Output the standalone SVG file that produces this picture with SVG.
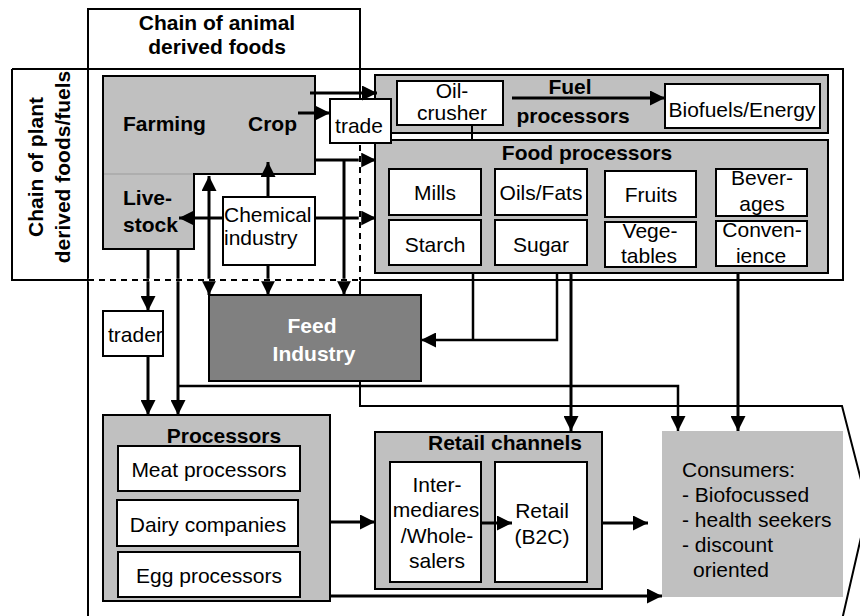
<svg xmlns="http://www.w3.org/2000/svg" width="860" height="616" viewBox="0 0 860 616">
<defs>
<marker id="ah" markerUnits="userSpaceOnUse" markerWidth="15" markerHeight="15" refX="15" refY="7.5" orient="auto-start-reverse" viewBox="0 0 15 15">
<path d="M0,0 L15,7.5 L0,15 z" fill="#000"/>
</marker>
<style>
text{font-family:"Liberation Sans",Arial,sans-serif;font-size:21px;fill:#000}
.b{font-weight:bold}
.m{text-anchor:middle}
.gray{fill:#c0c0c0;stroke:#000;stroke-width:2}
.wb{fill:#fff;stroke:#000;stroke-width:2}
.frame{fill:none;stroke:#000;stroke-width:2}
.c{fill:none;stroke:#000;stroke-width:2.5}
.ca{fill:none;stroke:#000;stroke-width:3;marker-end:url(#ah)}
.ct{fill:none;stroke:#000;stroke-width:2.5;marker-end:url(#ah)}
</style>
</defs>
<rect width="860" height="616" fill="#fff"/>

<g id="frames">
<path class="frame" d="M12,69 H843 V280 H360 M88,280 H12 V69"/>
<path class="frame" d="M88,616 V9 H360 V99"/>
<path class="frame" d="M360,280 V406 H842 L868,507 L842,620"/>
<text class="b m" x="217" y="30">Chain of animal</text>
<text class="b m" x="217" y="54">derived foods</text>
<text class="b m" transform="translate(43,167) rotate(-90)">Chain of plant</text>
<text class="b m" transform="translate(70,167) rotate(-90)">derived foods/fuels</text>
</g>

<g id="farming">
<polygon class="gray" points="103,76 315,76 315,174 194,174 194,249 103,249"/>
<line x1="104" y1="174" x2="193" y2="174" stroke="#a8a8a8" stroke-width="1.5"/>
<text class="b" x="123" y="131">Farming</text>
<text class="b" x="248" y="131">Crop</text>
<text class="b" x="123" y="205">Live-</text>
<text class="b" x="123" y="232">stock</text>
</g>

<g id="fuel-processors">
<rect class="gray" x="375" y="75" width="453" height="58"/>
<text class="b m" x="570" y="94">Fuel</text>
<text class="b m" x="573" y="123">processors</text>
</g>
<g id="oil-crusher">
<rect class="wb" x="397" y="81" width="106" height="44"/>
<text class="m" x="452" y="98">Oil-</text>
<text class="m" x="452" y="120">crusher</text>
</g>
<g id="biofuels">
<rect class="wb" x="665" y="84" width="155" height="44"/>
<text class="m" x="742" y="117">Biofuels/Energy</text>
</g>

<g id="food-processors">
<rect class="gray" x="375" y="140" width="453" height="133"/>
<text class="b m" x="587" y="160">Food processors</text>
</g>
<g id="mills"><rect class="wb" x="389" y="169" width="92" height="46"/><text class="m" x="435" y="200">Mills</text></g>
<g id="oils-fats"><rect class="wb" x="495" y="169" width="92" height="46"/><text class="m" x="541" y="200">Oils/Fats</text></g>
<g id="fruits"><rect class="wb" x="605" y="171" width="91" height="46"/><text class="m" x="651" y="202">Fruits</text></g>
<g id="beverages"><rect class="wb" x="716" y="169" width="91" height="47"/><text class="m" x="762" y="185">Bever-</text><text class="m" x="762" y="211">ages</text></g>
<g id="starch"><rect class="wb" x="389" y="220" width="92" height="45"/><text class="m" x="435" y="252">Starch</text></g>
<g id="sugar"><rect class="wb" x="495" y="220" width="92" height="45"/><text class="m" x="541" y="252">Sugar</text></g>
<g id="vegetables"><rect class="wb" x="605" y="222" width="91" height="45"/><text class="m" x="650" y="238">Vege-</text><text class="m" x="649" y="263">tables</text></g>
<g id="convenience"><rect class="wb" x="716" y="221" width="91" height="45"/><text class="m" x="762" y="237">Conven-</text><text class="m" x="761" y="263">ience</text></g>

<g id="trade">
<rect class="wb" x="330" y="99" width="61" height="44"/>
<text class="m" x="359" y="133">trade</text>
</g>

<g id="chemical-industry">
<rect class="wb" x="223" y="197" width="92" height="68"/>
<text x="224" y="222">Chemical</text>
<text x="224" y="245">industry</text>
</g>

<g id="trader">
<rect class="wb" x="103" y="311" width="60" height="45"/>
<text x="108" y="342">trader</text>
</g>

<g id="feed-industry">
<rect x="209" y="295" width="212" height="86" fill="#808080" stroke="#000" stroke-width="2"/>
<text class="b m" x="312" y="333" style="fill:#fff">Feed</text>
<text class="b m" x="314" y="361" style="fill:#fff">Industry</text>
</g>

<g id="processors">
<rect class="gray" x="103" y="415" width="227" height="186"/>
<text class="b m" x="224" y="443">Processors</text>
</g>
<g id="meat-processors"><rect class="wb" x="118" y="446" width="182" height="45"/><text class="m" x="209" y="477">Meat processors</text></g>
<g id="dairy-companies"><rect class="wb" x="117" y="500" width="181" height="46"/><text class="m" x="208" y="532">Dairy companies</text></g>
<g id="egg-processors"><rect class="wb" x="118" y="552" width="182" height="45"/><text class="m" x="209" y="583">Egg processors</text></g>

<g id="retail-channels">
<rect class="gray" x="375" y="432" width="227" height="157"/>
<text class="b m" x="505" y="450">Retail channels</text>
</g>
<g id="intermediares">
<rect class="wb" x="390" y="462" width="91" height="120"/>
<text class="m" x="437" y="492">Inter-</text>
<text class="m" x="436" y="517">mediares</text>
<text class="m" x="437" y="543">/Whole-</text>
<text class="m" x="437" y="568">salers</text>
</g>
<g id="retail-b2c">
<rect class="wb" x="495" y="462" width="92" height="120"/>
<text class="m" x="542" y="518">Retail</text>
<text class="m" x="542" y="544">(B2C)</text>
</g>

<g id="consumers">
<rect x="662" y="431" width="181" height="166" fill="#c0c0c0"/>
<text x="682" y="477">Consumers:</text>
<text x="682" y="502">- Biofocussed</text>
<text x="682" y="527">- health seekers</text>
<text x="682" y="552">- discount</text>
<text x="693" y="577">oriented</text>
</g>

<g id="connectors">
<path class="ca" d="M310,93 H377"/>
<path class="ca" d="M298,113 H330"/>
<path class="ca" d="M315,160 H376"/>
<path class="ca" d="M315,218 H376"/>
<path class="ca" d="M268,197 V162"/>
<path class="ca" d="M209,176 V295" style="marker-start:url(#ah)"/>
<path class="ca" d="M223,218 H179"/>
<path class="ca" d="M268,265 V295"/>
<path class="ca" d="M344,160 V295"/>
<path class="ca" d="M148,249 V311"/>
<path class="ca" d="M148,356 V415"/>
<path class="ca" d="M178,249 V415"/>
<path class="ct" d="M178,386 H678 V431"/>
<path class="c" d="M473,273 V340"/>
<path class="ct" d="M557,273 V340 H421"/>
<path class="ca" d="M571,273 V431"/>
<path class="ca" d="M738,273 V431"/>
<path class="ca" d="M330,522 H375"/>
<path class="ca" d="M481,523 H512"/>
<path class="ca" d="M602,523 H648"/>
<path class="ca" d="M330,596 H662"/>
<path class="ca" d="M512,98 H665"/>
<path fill="none" stroke="#000" stroke-width="2" d="M472,125 V140"/>
</g>

<g id="dashed-boundaries">
<path fill="none" stroke="#fff" stroke-width="2.5" d="M88,280 H360 M360,145 V280"/>
<path fill="none" stroke="#000" stroke-width="2" stroke-dasharray="6,5" d="M88,280 H360 M360,145 V280"/>
</g>
</svg>
